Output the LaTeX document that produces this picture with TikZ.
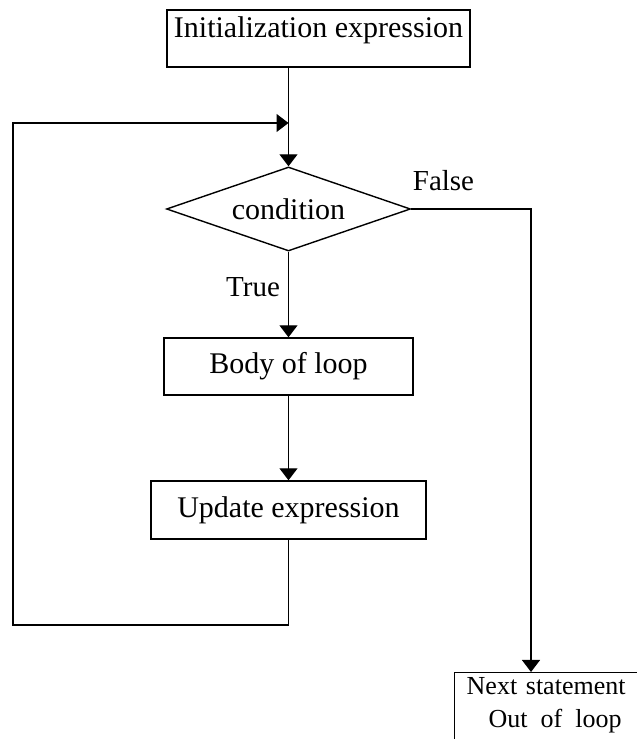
\documentclass[tikz,border=0pt]{standalone}
\usepackage{fontspec}
\setmainfont{Liberation Serif}
\usepackage{tikz}
\usetikzlibrary{shapes.geometric,arrows.meta}

\tikzset{
  box/.style={draw, line width=1.4pt, rectangle, inner sep=0pt,
    font=\fontsize{30}{36}\selectfont},
  decision/.style={draw, line width=1.4pt, diamond, aspect=2.9, inner sep=0pt,
    minimum width=244pt, minimum height=84pt, font=\fontsize{30}{36}\selectfont},
  flow/.style={line width=1.2pt, -{Triangle[width=18pt,length=12pt]}},
  lbl/.style={inner sep=0pt, font=\fontsize{29}{34}\selectfont}
}

\begin{document}
\begin{tikzpicture}
    % page size
    \useasboundingbox (0pt,0pt) rectangle (637pt,739pt);

    % Boxes
    \node[box, minimum width=303pt, text height=28pt, text depth=29pt] (init) at (318.5pt, 700.5pt) {Initialization expression};
    \node[decision] (cond) at (288.5pt, 530pt) {condition};
    \node[box, minimum width=249pt, minimum height=57pt] (body) at (288.5pt, 372.5pt) {Body of loop};
    \node[box, minimum width=275pt, minimum height=58pt] (update) at (288.5pt, 229pt) {Update expression};
    \node[box, anchor=north west, align=left, text width=190pt, inner xsep=12pt, inner ysep=5pt, text depth=60pt,
      font=\fontsize{26}{33}\selectfont] (next) at (454pt, 67pt)
      {Next statement\\\hspace*{22pt}Out\hspace{13pt}of\hspace{13pt}loop};

    % Labels
    \node[lbl] (false) at (443.5pt, 558pt) {False};
    \node[lbl] (true) at (253pt, 452pt) {True};

    % Corners
    \coordinate (join) at (288.5pt, 616pt);
    \coordinate (back) at (13pt, 114pt);
    \coordinate (out) at (531pt, 530pt);

    % Arrows
    \draw[flow] (cond.north |- init.south) -- (cond.north);
    \draw[flow] (cond.south) -- (body.north);
    \draw[flow] (body.south) -- (update.north);
    \draw[flow] (update.south) |- (back) |- (join);
    \draw[flow] (cond.east) -- (out) -- (out |- next.north);
\end{tikzpicture}
\end{document}
